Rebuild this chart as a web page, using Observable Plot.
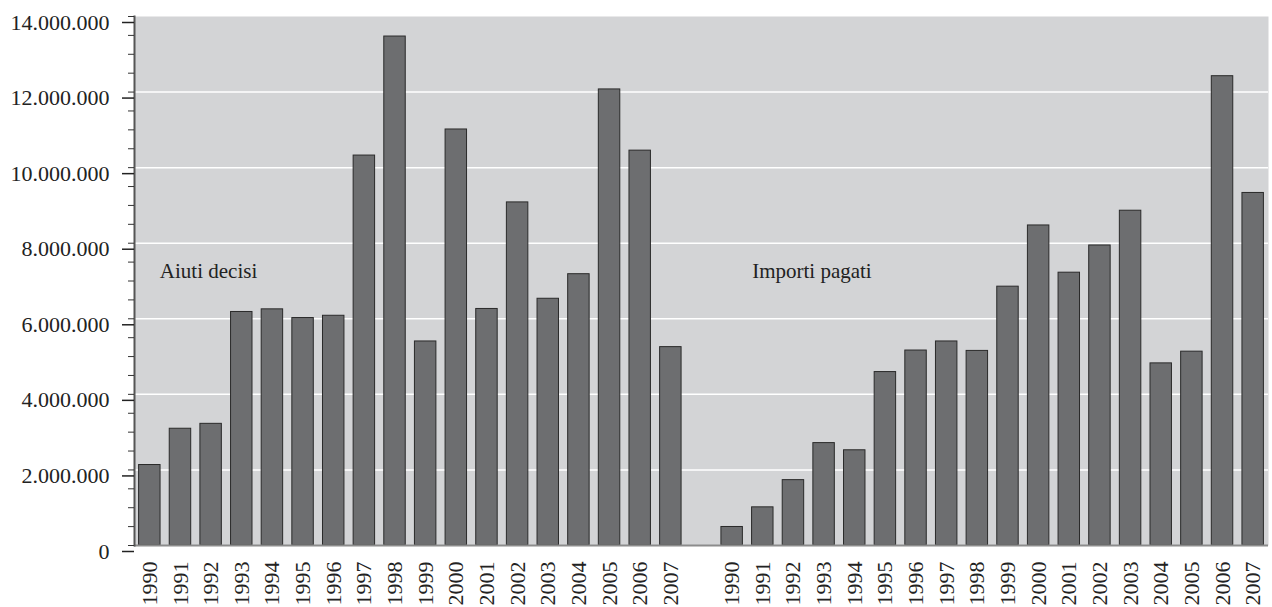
<!DOCTYPE html>
<html>
<head>
<meta charset="utf-8">
<script src="https://cdn.jsdelivr.net/npm/d3@7"></script>
<script src="https://cdn.jsdelivr.net/npm/@observablehq/plot@0.6"></script>
<style>
  html, body { margin: 0; padding: 0; background: #ffffff; }
  #chart svg { display: block; }
</style>
</head>
<body>
<div id="chart"></div>
<script>
const years = [1990,1991,1992,1993,1994,1995,1996,1997,1998,1999,2000,2001,2002,2003,2004,2005,2006,2007];
const seriesNames = ["Aiuti decisi", "Importi pagati"];
const aiutiDecisi = [2130000,3090000,3220000,6180000,6250000,6020000,6080000,10320000,13470000,5400000,11010000,6260000,9080000,6530000,7180000,12070000,10450000,5250000];
const importiPagati = [490000,1010000,1730000,2710000,2520000,4590000,5160000,5400000,5150000,6850000,8470000,7220000,7940000,8860000,4820000,5130000,12420000,9330000];
const yTicks = [0,2000000,4000000,6000000,8000000,10000000,12000000,14000000];

const seriesValues = [aiutiDecisi, importiPagati];
const rows = [];
seriesNames.forEach((s, i) => years.forEach((y, j) => rows.push({key: s + "|" + y, year: y, series: s, value: seriesValues[i][j]})));
const domain = [...years.map(y => seriesNames[0] + "|" + y), "gap", ...years.map(y => seriesNames[1] + "|" + y)];
const fmt = d => d3.format(",")(d).replace(/,/g, ".");
const minorTicks = d3.range(0, 14000001, 500000);
const serif = "'Liberation Serif', 'Times New Roman', serif";

const chart = Plot.plot({
  width: 1272,
  height: 607,
  marginLeft: 134,
  marginRight: 4,
  marginTop: 16,
  marginBottom: 62,
  style: {fontFamily: serif, fontSize: "22px", color: "#222", background: "#ffffff"},
  x: {domain, paddingInner: 0.3, paddingOuter: 0.15, round: false, axis: null},
  y: {domain: [0, 14000000], axis: null},
  marks: [
    Plot.frame({fill: "#d3d4d6", stroke: null}),
    Plot.gridY(yTicks.slice(1, -1), {stroke: "#ffffff", strokeOpacity: 1, strokeWidth: 1.5}),
    Plot.barY(rows, {x: "key", y: "value", fill: "#6d6e70", stroke: "#2a2a2a", strokeWidth: 1}),
    Plot.ruleY([0], {stroke: "#8c8c8c", strokeWidth: 2}),
    Plot.frame({anchor: "left", stroke: "#555555", strokeWidth: 2}),
    Plot.axisY(minorTicks, {tickSize: 6, tickFormat: () => "", stroke: "#333", label: null}),
    Plot.axisY(yTicks, {tickSize: 12, tickPadding: 13, tickFormat: fmt, stroke: "#222", strokeWidth: 1.5, dy: 6, fontSize: 22, label: null}),
    Plot.axisX({tickSize: 0, tickPadding: 16, tickRotate: -90, tickFormat: k => k === "gap" ? "" : k.split("|")[1], fontSize: 22, label: null}),
    Plot.text([seriesNames[0]], {x: () => domain[0], y: 7270000, text: d => d, textAnchor: "start", dx: 10, fontSize: 21, fill: "#222"}),
    Plot.text([seriesNames[1]], {x: () => domain[19], y: 7270000, text: d => d, textAnchor: "start", dx: 20, fontSize: 21, fill: "#222"})
  ]
});
document.getElementById("chart").appendChild(chart);
</script>
</body>
</html>
